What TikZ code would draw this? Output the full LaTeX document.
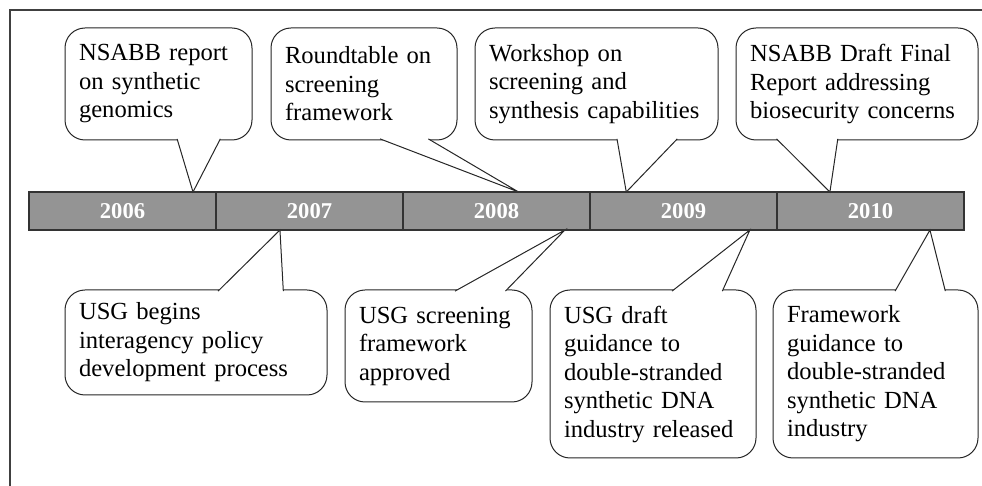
\documentclass[tikz,border=0pt]{standalone}
\usepackage{fontspec}
\setmainfont{Liberation Serif}
\usetikzlibrary{positioning,calc}

\tikzset{
  year/.style={draw=black!80, line width=1.4pt, fill=black!42, outer sep=0pt,
    minimum width=93.5pt, minimum height=19pt, text=white,
    font=\fontsize{11.3pt}{13pt}\selectfont\bfseries},
  note/.style={draw=black!85, line width=0.5pt, fill=white, rounded corners=10pt,
    align=left, inner xsep=7pt, inner ysep=0pt,
    font=\fontsize{12.3pt}{14.25pt}\selectfont},
  tail/.style={draw=black!85, line width=0.5pt, line join=miter},
  frame/.style={draw=black!75, line width=1pt}
}

% tail of a callout: node, side, base fractions, year node, side, tip fraction, shift
\newcommand{\calltail}[8]{%
  \coordinate (a) at ($(#1.#2 west)!#3!(#1.#2 east)$);
  \coordinate (b) at ($(#1.#2 west)!#4!(#1.#2 east)$);
  \coordinate (p) at ($(#5.#6 west)!#7!(#5.#6 east)$);
  \fill[white] ([yshift=#8]a) -- (p) -- ([yshift=#8]b) -- cycle;
  \draw[tail] ([yshift=#8]a) -- (p) -- ([yshift=#8]b);
}

\begin{document}
\begin{tikzpicture}[x=0.5pt, y=-0.5pt]
  \useasboundingbox (0,0) rectangle (982,486);
  \draw[frame] (10,486) -- (10,10) -- (982,10);

  % Year bar
  \node[year] (y2006) at (122.5,211) {2006};
  \node[year, right=0pt of y2006] (y2007) {2007};
  \node[year, right=0pt of y2007] (y2008) {2008};
  \node[year, right=0pt of y2008] (y2009) {2009};
  \node[year, right=0pt of y2009] (y2010) {2010};

  % Callouts above the bar
  \node[note, text width=79.5pt, minimum height=56pt] (t1) at (158.5,84)
    {NSABB report\\on synthetic\\genomics};
  \node[note, text width=79pt, minimum height=56pt] (t2) at (364,84)
    {Roundtable on\\screening\\framework};
  \node[note, text width=107.5pt, minimum height=56pt] (t3) at (596.5,84)
    {Workshop on\\screening and\\synthesis capabilities};
  \node[note, text width=107pt, minimum height=56pt] (t4) at (857,84)
    {NSABB Draft Final\\Report addressing\\biosecurity concerns};

  % Callouts below the bar
  \node[note, text width=117pt, minimum height=52.5pt] (b1) at (196,342.5)
    {USG begins\\interagency policy\\development process};
  \node[note, text width=79.5pt, minimum height=56pt] (b2) at (438.5,346)
    {USG screening\\framework\\approved};
  \node[note, text width=89pt, minimum height=84pt] (b3) at (653,374)
    {USG draft\\guidance to\\double-stranded\\synthetic DNA\\industry released};
  \node[note, text width=88.5pt, minimum height=84pt] (b4) at (875.5,374)
    {Framework\\guidance to\\double-stranded\\synthetic DNA\\industry};

  % Tails
  \calltail{t1}{south}{0.599}{0.829}{y2006}{north}{0.877}{0.8pt}
  \calltail{t2}{south}{0.586}{0.844}{y2008}{north}{0.618}{0.8pt}
  \calltail{t3}{south}{0.584}{0.831}{y2009}{north}{0.194}{0.8pt}
  \calltail{t4}{south}{0.169}{0.421}{y2010}{north}{0.283}{0.8pt}
  \calltail{b1}{north}{0.584}{0.832}{y2007}{south}{0.342}{-0.8pt}
  \calltail{b2}{north}{0.588}{0.856}{y2008}{south}{0.866}{-0.8pt}
  \calltail{b3}{north}{0.592}{0.835}{y2009}{south}{0.855}{-0.8pt}
  \calltail{b4}{north}{0.595}{0.839}{y2010}{south}{0.818}{-0.8pt}

  % redraw bar on top of the tail tips
  \foreach \y in {2006,2007,2008,2009,2010}
    \draw[line width=1.4pt, draw=black!80] (y\y.south west) rectangle (y\y.north east);
\end{tikzpicture}
\end{document}
